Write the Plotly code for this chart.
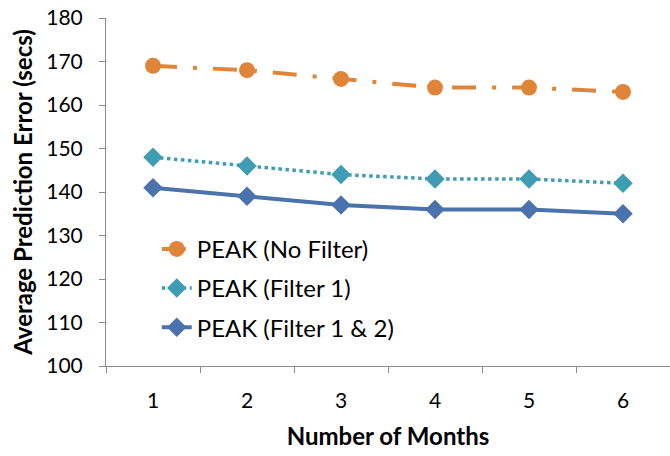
import plotly.graph_objects as go

months = ["1", "2", "3", "4", "5", "6"]
no_filter = [169, 168, 166, 164, 164, 163]
filter1 = [148, 146, 144, 143, 143, 142]
filter12 = [141, 139, 137, 136, 136, 135]
y_ticks = [100, 110, 120, 130, 140, 150, 160, 170, 180]

FONT = "Lato, 'Open Sans', sans-serif"

fig = go.Figure()
fig.add_trace(go.Scatter(
    x=months, y=no_filter, name="PEAK (No Filter)", mode="lines+markers",
    line=dict(color="#E0843A", width=4, dash="24px,16px,4px,16px"),
    marker=dict(symbol="circle", size=16, color="#E0843A"),
    legendgroup="a"))
fig.add_trace(go.Scatter(
    x=months, y=filter1, name="PEAK (Filter 1)", mode="lines+markers",
    line=dict(color="#3E9DB3", width=3.5, dash="dot"),
    marker=dict(symbol="diamond", size=15, color="#3E9DB3"),
    legendgroup="b"))
fig.add_trace(go.Scatter(
    x=months, y=filter12, name="PEAK (Filter 1 & 2)", mode="lines+markers",
    line=dict(color="#4A72AC", width=4),
    marker=dict(symbol="diamond", size=15, color="#4A72AC"),
    legendgroup="c"))

fig.update_layout(
    width=670, height=456,
    margin=dict(l=106, r=0, t=18, b=90),
    paper_bgcolor="white", plot_bgcolor="white",
    font=dict(family=FONT, size=20, color="#000000"),
    showlegend=True,
    legend=dict(
        x=0.09, y=0.40, xanchor="left", yanchor="top",
        bgcolor="rgba(0,0,0,0)", font=dict(size=24),
        traceorder="grouped", tracegroupgap=5, itemwidth=30,
    ),
    xaxis=dict(
        type="category", categoryorder="array", categoryarray=months,
        range=[-0.5, 5.5],
        showline=True, linecolor="#8C8C8C", linewidth=1,
        ticks="outside", ticklen=6, tickcolor="#8C8C8C",
        tickson="boundaries", showgrid=False, zeroline=False,
        tickfont=dict(size=21), ticklabelstandoff=16,
        title=dict(text="<b>Number of Months</b>", font=dict(size=24), standoff=16),
    ),
    yaxis=dict(
        range=[100, 180], tickvals=y_ticks,
        showline=True, linecolor="#8C8C8C", linewidth=1,
        ticks="outside", ticklen=6, tickcolor="#8C8C8C",
        showgrid=False, zeroline=False,
        tickfont=dict(size=21), ticklabelstandoff=12,
        title=dict(text="<b>Average Prediction Error (secs)</b>", font=dict(size=24), standoff=6),
    ),
)

fig.write_html("out.html")
